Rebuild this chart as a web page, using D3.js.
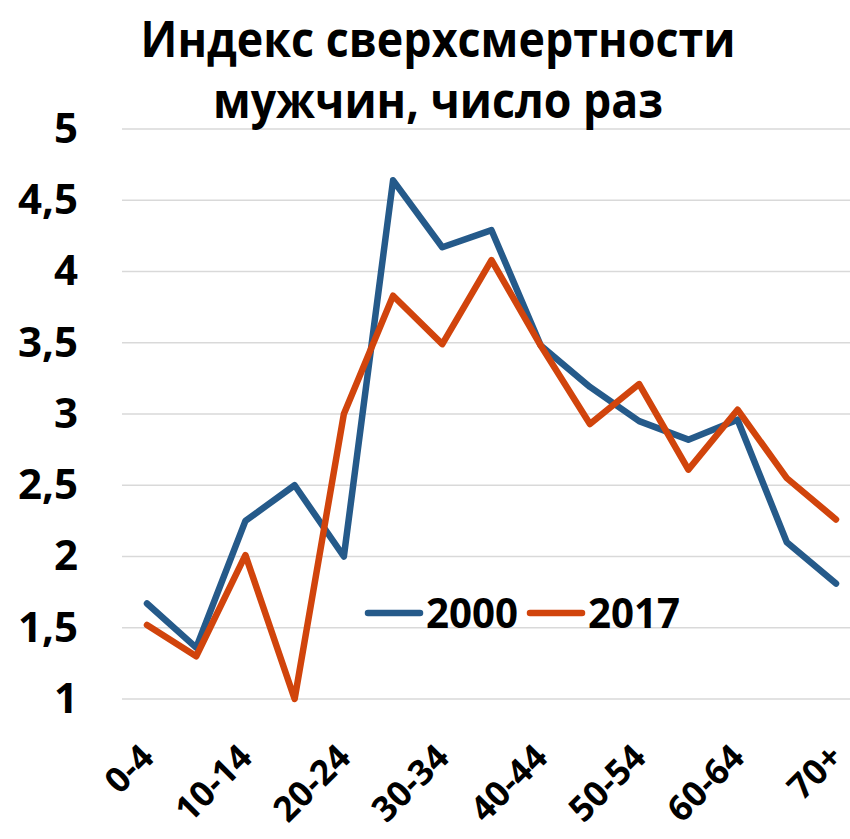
<!DOCTYPE html>
<html>
<head>
<meta charset="utf-8">
<script src="https://cdn.jsdelivr.net/npm/d3@7"></script>
<style>
  body { margin: 0; background: #fff; }
  text { font-family: "Open Sans", "DejaVu Sans", sans-serif; font-weight: bold; fill: #000; }
</style>
</head>
<body>
<script>
// age groups and series
var ageGroups = ['0-4','5-9','10-14','15-19','20-24','25-29','30-34','35-39',
                 '40-44','45-49','50-54','55-59','60-64','65-69','70+'];
var values2000 = [1.67, 1.36, 2.25, 2.50, 2.00, 4.64, 4.17, 4.29, 3.48, 3.19, 2.95, 2.82, 2.96, 2.10, 1.81];
var values2017 = [1.52, 1.30, 2.01, 1.00, 3.00, 3.83, 3.49, 4.08, 3.48, 2.93, 3.21, 2.61, 3.03, 2.55, 2.26];
var seriesNames = ['2000', '2017'];
var yTicks = [1, 1.5, 2, 2.5, 3, 3.5, 4, 4.5, 5];
var titleLines = ['Индекс сверхсмертности', 'мужчин, число раз'];

var width = 850,
    height = 839,
    colors = ['#255a8a', '#d1440c'];

var svg = d3.select('body').append('svg')
    .attr('width', width)
    .attr('height', height);

var x = d3.scalePoint()
    .domain(ageGroups)
    .range([147, 836]);

var y = d3.scaleLinear()
    .domain([1, 5])
    .range([699, 129]);

var fmt = function(d){ return String(d).replace('.', ','); };

// gridlines
svg.append('g').selectAll('line')
    .data(yTicks)
  .enter().append('line')
    .attr('x1', 122)
    .attr('x2', width)
    .attr('y1', function(d){ return y(d); })
    .attr('y2', function(d){ return y(d); })
    .attr('stroke', '#d9d9d9')
    .attr('stroke-width', 1.5);

// y axis labels
var yAxis = svg.append('g')
    .attr('transform', 'translate(78,0)')
    .call(d3.axisLeft(y).tickValues(yTicks).tickFormat(fmt).tickSize(0).tickPadding(0));
yAxis.select('.domain').remove();
yAxis.selectAll('text')
    .style('font-size', '42px')
    .style('font-family', '"Open Sans", sans-serif')
    .attr('fill', '#000');

// x axis labels (every other one)
var xAxis = svg.append('g')
    .attr('transform', 'translate(0,742)')
    .call(d3.axisBottom(x).tickValues(ageGroups.filter(function(d, i){ return i % 2 === 0; }))
      .tickSize(0).tickPadding(0));
xAxis.select('.domain').remove();
xAxis.selectAll('text')
    .style('font-size', '35px')
    .style('font-family', '"Open Sans", sans-serif')
    .attr('fill', '#000')
    .attr('text-anchor', 'end')
    .attr('dy', '0.7em')
    .attr('transform', 'translate(-9,0) rotate(-45)');

// lines
var line = d3.line()
    .x(function(d, i){ return x(ageGroups[i]); })
    .y(function(d){ return y(d); });

svg.selectAll('path.series')
    .data([values2000, values2017])
  .enter().append('path')
    .attr('class', 'series')
    .attr('d', line)
    .attr('fill', 'none')
    .attr('stroke', function(d, i){ return colors[i]; })
    .attr('stroke-width', 6.5)
    .attr('stroke-linejoin', 'round')
    .attr('stroke-linecap', 'round');

// legend
var legend = svg.append('g').selectAll('g')
    .data(seriesNames)
  .enter().append('g')
    .attr('transform', function(d, i){ return 'translate(' + (368 + i * 162) + ',613)'; });
legend.append('line')
    .attr('x1', 0).attr('x2', 52)
    .attr('stroke', function(d, i){ return colors[i]; })
    .attr('stroke-width', 6.5)
    .attr('stroke-linecap', 'round');
legend.append('text')
    .attr('x', 58)
    .attr('y', 15)
    .attr('textLength', 92)
    .attr('lengthAdjust', 'spacingAndGlyphs')
    .style('font-size', '42px')
    .text(function(d){ return d; });

// title
svg.append('g').selectAll('text')
    .data(titleLines)
  .enter().append('text')
    .attr('x', 438)
    .attr('y', function(d, i){ return 57 + i * 61; })
    .attr('text-anchor', 'middle')
    .attr('textLength', function(d, i){ return i === 0 ? 595 : 450; })
    .attr('lengthAdjust', 'spacingAndGlyphs')
    .style('font-size', '50px')
    .text(function(d){ return d; });
</script>
</body>
</html>
